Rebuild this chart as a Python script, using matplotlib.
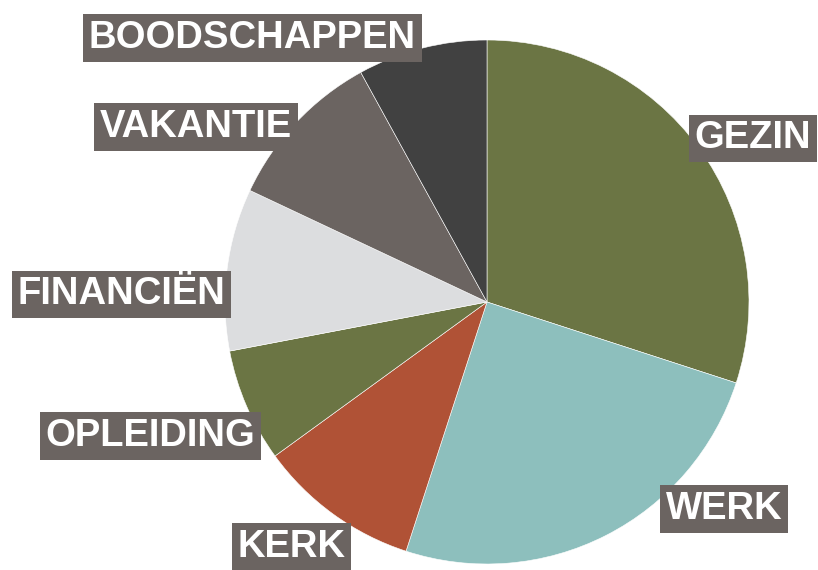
import numpy as np
import matplotlib
matplotlib.use("Agg")
import matplotlib.pyplot as plt

### data
categories = ["GEZIN", "WERK", "KERK", "OPLEIDING", "FINANCIËN", "VAKANTIE", "BOODSCHAPPEN"]
values = [30, 25, 10, 7, 10, 10, 8]

### style / layout
colors = ["#6b7544", "#8dbfbd", "#b05236", "#6b7544", "#dcdddf", "#6b6461", "#414141"]
# label centres, in units of the pie radius (x right, y up)
label_pos = [(1.015, 0.640), (0.905, -0.775), (-0.746, -0.920), (-1.284, -0.496),
             (-1.395, 0.044), (-1.111, 0.683), (-0.895, 1.023)]

W, H = 818, 570
cx, cy, R = 487, 302, 262

fig = plt.figure(figsize=(W / 100, H / 100), dpi=100)
ax = fig.add_axes([0, 0, 1, 1])

ax.pie(values, colors=colors, startangle=90, counterclock=False, radius=1,
       wedgeprops=dict(edgecolor="white", linewidth=0.4))

for name, (lx, ly) in zip(categories, label_pos):
    ax.text(lx, ly, name, ha="center", va="center_baseline", color="white",
            fontsize=27.5, fontweight="bold", family="Liberation Sans",
            bbox=dict(boxstyle="square,pad=0.15", facecolor="#6b6461", edgecolor="none"))

ax.set_aspect("auto")
ax.set_xlim(-cx / R, (W - cx) / R)
ax.set_ylim(-(H - cy) / R, cy / R)
ax.axis("off")

fig.savefig("out.png", dpi=100)
